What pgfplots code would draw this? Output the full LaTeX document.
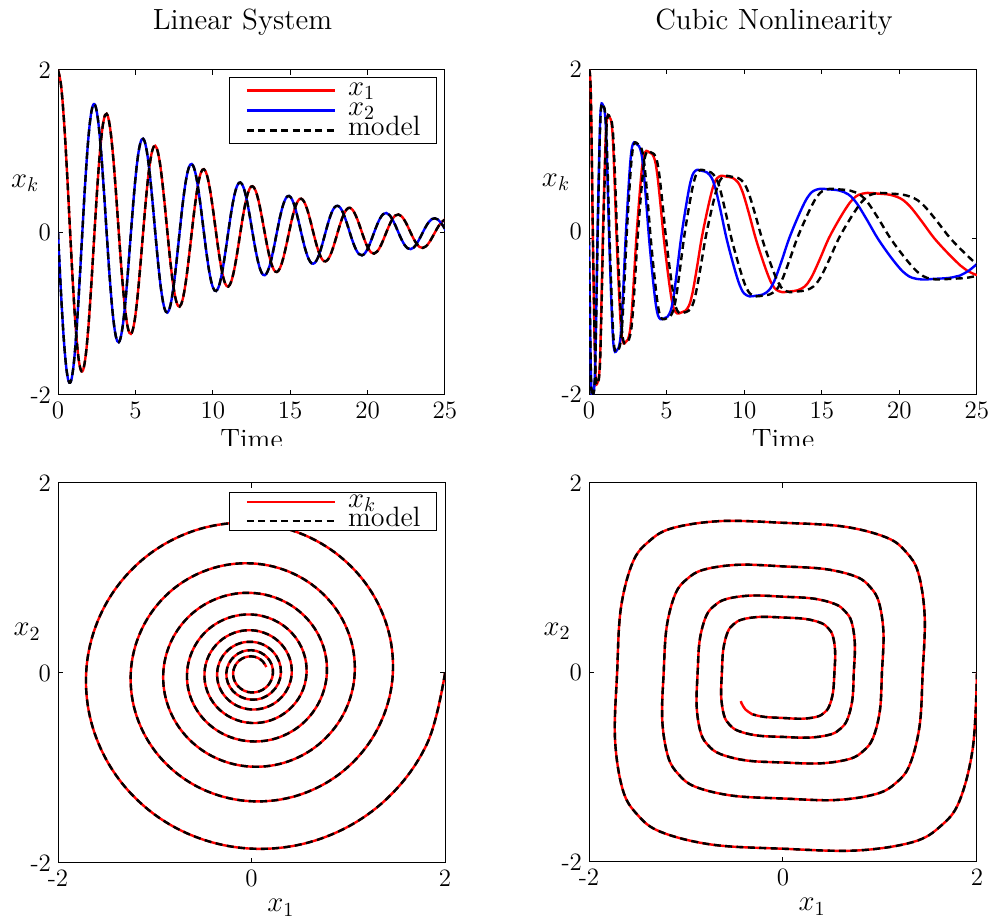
\documentclass[border=0pt]{standalone}
\usepackage{fontspec}
\usepackage{pgfplots}
\pgfplotsset{compat=1.18}
\usepackage{pgfplotstable}

\pgfplotstableread{
t x1 x2
0.000 2.000 0.000
0.196 1.812 -0.750
0.393 1.360 -1.360
0.589 0.722 -1.742
0.785 0.000 -1.849
0.982 -0.694 -1.675
1.178 -1.257 -1.257
1.374 -1.610 -0.667
1.571 -1.709 0.000
1.767 -1.548 0.641
1.963 -1.162 1.162
2.160 -0.617 1.489
2.356 0.000 1.580
2.553 0.593 1.431
2.749 1.074 1.074
2.945 1.376 0.570
3.142 1.461 0.000
3.338 1.323 -0.548
3.534 0.993 -0.993
3.731 0.527 -1.272
3.927 0.000 -1.350
4.123 -0.507 -1.223
4.320 -0.918 -0.918
4.516 -1.176 -0.487
4.712 -1.248 0.000
4.909 -1.131 0.468
5.105 -0.849 0.849
5.301 -0.450 1.087
5.498 0.000 1.154
5.694 0.433 1.046
5.890 0.785 0.785
6.087 1.005 0.416
6.283 1.067 0.000
6.480 0.967 -0.400
6.676 0.725 -0.725
6.872 0.385 -0.929
7.069 0.000 -0.986
7.265 -0.370 -0.894
7.461 -0.671 -0.671
7.658 -0.859 -0.356
7.854 -0.912 0.000
8.050 -0.826 0.342
8.247 -0.620 0.620
8.443 -0.329 0.794
8.639 0.000 0.843
8.836 0.316 0.764
9.032 0.573 0.573
9.228 0.734 0.304
9.425 0.779 0.000
9.621 0.706 -0.292
9.817 0.530 -0.530
10.014 0.281 -0.679
10.210 0.000 -0.720
10.407 -0.270 -0.653
10.603 -0.490 -0.490
10.799 -0.628 -0.260
10.996 -0.666 0.000
11.192 -0.603 0.250
11.388 -0.453 0.453
11.585 -0.240 0.580
11.781 0.000 0.616
11.977 0.231 0.558
12.174 0.419 0.419
12.370 0.536 0.222
12.566 0.569 0.000
12.763 0.516 -0.214
12.959 0.387 -0.387
13.155 0.205 -0.496
13.352 0.000 -0.526
13.548 -0.197 -0.477
13.744 -0.358 -0.358
13.941 -0.458 -0.190
14.137 -0.486 0.000
14.334 -0.441 0.183
14.530 -0.331 0.331
14.726 -0.176 0.424
14.923 0.000 0.450
15.119 0.169 0.407
15.315 0.306 0.306
15.512 0.392 0.162
15.708 0.416 0.000
15.904 0.377 -0.156
16.101 0.283 -0.283
16.297 0.150 -0.362
16.493 0.000 -0.384
16.690 -0.144 -0.348
16.886 -0.261 -0.261
17.082 -0.335 -0.139
17.279 -0.355 0.000
17.475 -0.322 0.133
17.671 -0.242 0.242
17.868 -0.128 0.310
18.064 0.000 0.328
18.261 0.123 0.298
18.457 0.223 0.223
18.653 0.286 0.119
18.850 0.304 0.000
19.046 0.275 -0.114
19.242 0.206 -0.206
19.439 0.110 -0.265
19.635 0.000 -0.281
19.831 -0.105 -0.254
20.028 -0.191 -0.191
20.224 -0.245 -0.101
20.420 -0.260 0.000
20.617 -0.235 0.097
20.813 -0.176 0.176
21.009 -0.094 0.226
21.206 0.000 0.240
21.402 0.090 0.217
21.598 0.163 0.163
21.795 0.209 0.087
21.991 0.222 0.000
22.187 0.201 -0.083
22.384 0.151 -0.151
22.580 0.080 -0.193
22.777 0.000 -0.205
22.973 -0.077 -0.186
23.169 -0.139 -0.139
23.366 -0.179 -0.074
23.562 -0.190 0.000
23.758 -0.172 0.071
23.955 -0.129 0.129
24.151 -0.068 0.165
24.347 0.000 0.175
24.544 0.066 0.159
24.740 0.119 0.119
24.936 0.153 0.063
25.133 0.162 0.000
}\lineartab

\pgfplotstableread{
t tm x1 x2
0.000 0.000 2.000 0.000
0.054 0.055 1.958 -0.788
0.098 0.100 1.817 -1.362
0.125 0.127 1.623 -1.623
0.152 0.154 1.341 -1.789
0.196 0.199 0.756 -1.879
0.250 0.254 0.000 -1.860
0.314 0.319 -0.731 -1.817
0.366 0.372 -1.261 -1.682
0.398 0.405 -1.501 -1.501
0.429 0.437 -1.652 -1.238
0.481 0.490 -1.732 -0.697
0.545 0.555 -1.710 0.000
0.620 0.631 -1.672 0.673
0.681 0.693 -1.550 1.161
0.718 0.731 -1.383 1.383
0.754 0.769 -1.142 1.523
0.815 0.831 -0.643 1.598
0.890 0.907 0.000 1.580
0.979 0.998 0.620 1.541
1.051 1.072 1.068 1.424
1.095 1.117 1.270 1.270
1.139 1.162 1.396 1.047
1.211 1.236 1.461 0.588
1.300 1.327 1.440 0.000
1.404 1.433 1.408 -0.566
1.489 1.521 1.305 -0.978
1.540 1.574 1.165 -1.165
1.591 1.626 0.961 -1.282
1.676 1.714 0.542 -1.346
1.780 1.820 0.000 -1.330
1.905 1.949 -0.523 -1.300
2.008 2.055 -0.904 -1.206
2.070 2.119 -1.076 -1.076
2.132 2.182 -1.185 -0.888
2.235 2.288 -1.245 -0.501
2.360 2.417 -1.230 0.000
2.509 2.571 -1.199 0.482
2.631 2.697 -1.109 0.831
2.705 2.774 -0.988 0.988
2.779 2.850 -0.814 1.086
2.901 2.976 -0.458 1.137
3.050 3.130 0.000 1.120
3.227 3.313 0.439 1.091
3.372 3.463 0.757 1.010
3.460 3.554 0.900 0.900
3.548 3.644 0.989 0.741
3.693 3.794 1.036 0.417
3.870 3.977 1.020 0.000
4.075 4.190 0.999 -0.402
4.243 4.365 0.927 -0.694
4.345 4.471 0.828 -0.828
4.447 4.576 0.685 -0.913
4.615 4.751 0.386 -0.959
4.820 4.964 0.000 -0.950
5.060 5.213 -0.374 -0.929
5.256 5.418 -0.645 -0.861
5.375 5.541 -0.770 -0.770
5.494 5.664 -0.848 -0.636
5.690 5.869 -0.890 -0.358
5.930 6.118 -0.880 0.000
6.217 6.418 -0.858 0.345
6.453 6.663 -0.793 0.594
6.595 6.812 -0.706 0.706
6.737 6.960 -0.582 0.776
6.973 7.205 -0.327 0.812
7.260 7.505 0.000 0.800
7.606 7.866 0.314 0.780
7.889 8.162 0.540 0.721
8.060 8.341 0.643 0.643
8.231 8.520 0.708 0.531
8.514 8.816 0.741 0.298
8.860 9.177 0.730 0.000
9.266 9.603 0.715 -0.288
9.599 9.951 0.663 -0.497
9.800 10.162 0.593 -0.593
10.001 10.373 0.490 -0.654
10.334 10.721 0.276 -0.687
10.740 11.147 0.000 -0.680
11.207 11.637 -0.268 -0.665
11.589 12.038 -0.462 -0.616
11.820 12.281 -0.551 -0.551
12.051 12.524 -0.607 -0.455
12.433 12.925 -0.637 -0.256
12.900 13.415 -0.630 0.000
13.451 13.995 -0.615 0.248
13.902 14.469 -0.570 0.427
14.175 14.757 -0.509 0.509
14.448 15.044 -0.420 0.560
14.899 15.519 -0.236 0.587
15.450 16.098 0.000 0.580
16.130 16.816 0.228 0.566
16.688 17.405 0.392 0.523
17.025 17.761 0.467 0.467
17.362 18.116 0.514 0.385
17.920 18.705 0.538 0.216
18.600 19.423 0.530 0.000
19.388 20.257 0.516 -0.208
20.034 20.940 0.476 -0.357
20.425 21.354 0.425 -0.425
20.816 21.767 0.350 -0.467
21.462 22.450 0.196 -0.488
22.250 23.284 0.000 -0.480
23.190 24.285 -0.189 -0.469
23.860 25.000 -0.310 -0.443
23.960 25.106 -0.326 -0.435
24.425 25.602 -0.389 -0.389
24.890 26.098 -0.429 -0.321
25.000 26.214 -0.435 -0.302
}\cubictab

\pgfplotsset{
  myaxis/.style={
    scale only axis,
    enlargelimits=false,
    axis line style={line width=0.5pt},
    every tick/.style={line width=0.5pt, black},
    tick align=inside,
    major tick length=2.5pt,
    tick label style={font=\fontsize{12.5}{14}\selectfont},
    /pgf/number format/assume math mode=true,
    label style={font=\fontsize{14}{16}\selectfont},
    title style={font=\fontsize{14.6}{17}\selectfont, at={(axis description cs:0.5,1)}, anchor=base, yshift=14pt, xshift=-4.5pt},
    legend cell align=left,
    legend image code/.code={\draw[##1] (0pt,0pt) -- (44pt,0pt);},
  },
  mdl/.style={black, line width=1.2pt, dash pattern=on 3.5pt off 2.2pt},
  tru/.style={line width=1.2pt},
}

\begin{document}
\begin{tikzpicture}
\useasboundingbox (0pt,0pt) rectangle (496pt,-462pt);

% top-left
\begin{axis}[myaxis,
  at={(29pt,-35pt)}, anchor=north west, width=193.5pt, height=162.5pt,
  xmin=0, xmax=25, ymin=-2, ymax=2,
  xtick={0,5,10,15,20,25}, ytick={-2,0,2},
  title={Linear System},
  xlabel={Time}, xlabel style={at={(axis description cs:0.5,0)}, anchor=base, yshift=-27pt},
  ylabel={$x_k$}, ylabel style={rotate=-90, at={(axis description cs:-0.085,0.652)}, anchor=center},
  legend style={at={(axis description cs:1,1)}, anchor=north east, xshift=-4pt, yshift=-3.5pt,
    draw=black, line width=0.5pt, inner xsep=8pt, inner ysep=1.5pt, row sep=0pt, column sep=6pt,
    font=\fontsize{14}{16}\selectfont, nodes={inner sep=0pt, text height=7.5pt, text depth=2.5pt}},
]
\addplot[tru, red, smooth, tension=0.62] table[x=t, y=x1] {\lineartab};
\addlegendentry{$x_1$}
\addplot[tru, blue, smooth, tension=0.62] table[x=t, y=x2] {\lineartab};
\addlegendentry{$x_2$}
\addplot[mdl, smooth, tension=0.62] table[x=t, y=x1] {\lineartab};
\addlegendentry{model}
\addplot[mdl, smooth, tension=0.62, forget plot] table[x=t, y=x2] {\lineartab};
\end{axis}

% top-right
\begin{axis}[myaxis,
  at={(294.5pt,-34.75pt)}, anchor=north west, width=194pt, height=162.5pt,
  xmin=0, xmax=25, ymin=-1.85, ymax=2,
  xtick={0,5,10,15,20,25}, ytick={-1.85,2}, yticklabels={-2,2},
  extra y ticks={0}, extra y tick labels={0},
  extra y tick style={yticklabel style={yshift=3.3pt}},
  title={Cubic Nonlinearity},
  xlabel={Time}, xlabel style={at={(axis description cs:0.5,0)}, anchor=base, yshift=-27pt},
  ylabel={$x_k$}, ylabel style={rotate=-90, at={(axis description cs:-0.085,0.652)}, anchor=center},
]
\addplot[tru, red, smooth, tension=0.6] table[x=t, y=x1] {\cubictab};
\addplot[tru, blue, smooth, tension=0.6] table[x=t, y=x2] {\cubictab};
\addplot[mdl, smooth, tension=0.6] table[x=tm, y=x1] {\cubictab};
\addplot[mdl, smooth, tension=0.6] table[x=tm, y=x2] {\cubictab};
\end{axis}

\fill[white] (0pt,-223.25pt) rectangle (496pt,-240pt);

% bottom-left
\begin{axis}[myaxis,
  at={(29pt,-241.5pt)}, anchor=north west, width=193.5pt, height=190pt,
  xmin=-2, xmax=2, ymin=-2, ymax=2,
  xtick={-2,0,2}, ytick={-2,0,2},
  xlabel={$x_1$}, xlabel style={at={(axis description cs:0.576,0)}, anchor=base, yshift=-24.5pt},
  ylabel={$x_2$}, ylabel style={rotate=-90, at={(axis description cs:-0.08,0.608)}, anchor=center},
  legend style={at={(axis description cs:1,1)}, anchor=north east, xshift=-4pt, yshift=-4.5pt,
    draw=black, line width=0.5pt, inner xsep=8pt, inner ysep=0pt, row sep=0pt, column sep=6pt,
    font=\fontsize{14}{16}\selectfont, nodes={inner sep=0pt, text height=7.5pt, text depth=2pt}},
]
\addplot[tru, red, smooth, tension=0.62, skip coords between index={128}{200}] table[x=x1, y=x2] {\lineartab};
\addlegendentry{$x_k$}
\addplot[mdl, smooth, tension=0.62, skip coords between index={128}{200}] table[x=x1, y=x2] {\lineartab};
\addlegendentry{model}
\end{axis}

% bottom-right
\begin{axis}[myaxis,
  at={(294.5pt,-241.5pt)}, anchor=north west, width=194pt, height=189.5pt,
  xmin=-2, xmax=2, ymin=-2, ymax=2,
  xtick={-2,0,2}, ytick={-2,0,2},
  xlabel={$x_1$}, xlabel style={at={(axis description cs:0.575,0)}, anchor=base, yshift=-24.5pt},
  ylabel={$x_2$}, ylabel style={rotate=-90, at={(axis description cs:-0.082,0.608)}, anchor=center},
]
\addplot[tru, red, smooth, tension=0.6] table[x=x1, y=x2] {\cubictab};
\addplot[mdl, smooth, tension=0.6, skip coords between index={105}{200}] table[x=x1, y=x2] {\cubictab};
\end{axis}
\end{tikzpicture}
\end{document}
